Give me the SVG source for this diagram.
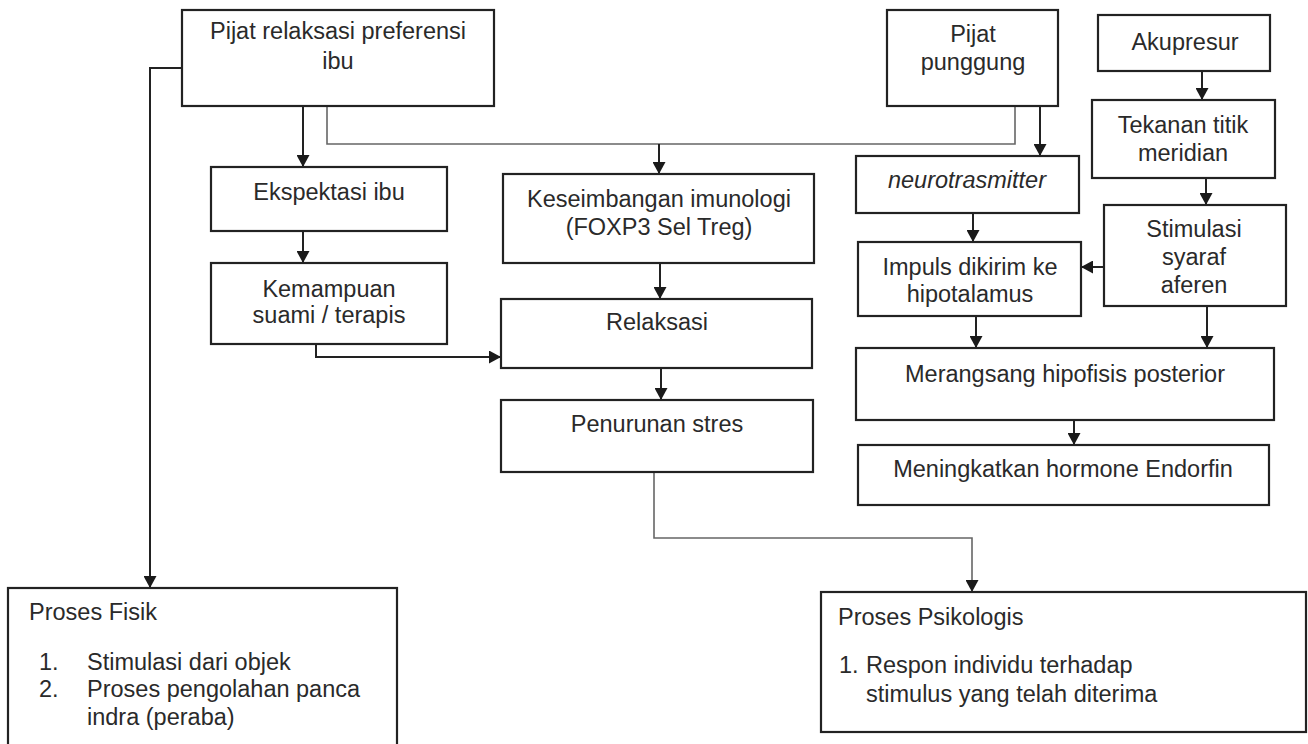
<svg xmlns="http://www.w3.org/2000/svg" width="1308" height="744" viewBox="0 0 1308 744">
<defs>
<marker id="ah" markerUnits="userSpaceOnUse" markerWidth="12" markerHeight="13" refX="12" refY="6.5" orient="auto">
<path d="M0,0 L12,6.5 L0,13 z" fill="#1a1a1a"/>
</marker>
<style>
.box{fill:#fff;stroke:#222;stroke-width:2.2}
.t{font-family:"Liberation Sans",Arial,sans-serif;font-size:23.5px;fill:#2a2a2a;text-anchor:middle}
.l{text-anchor:start}
.c{fill:none;stroke:#222;stroke-width:2}
.g{fill:none;stroke:#666;stroke-width:1.6}
</style>
</defs>
<rect width="1308" height="744" fill="#fff"/>
<g id="connectors">
<path class="c" d="M182,68 H150 V588" marker-end="url(#ah)"/>
<path class="c" d="M303,106 V167" marker-end="url(#ah)"/>
<path class="g" d="M327,106 V144 H1015 V106"/>
<path class="c" d="M659,144 V174" marker-end="url(#ah)"/>
<path class="c" d="M303,231 V263" marker-end="url(#ah)"/>
<path class="c" d="M316,344 V357 H501" marker-end="url(#ah)"/>
<path class="c" d="M660,263 V299" marker-end="url(#ah)"/>
<path class="c" d="M661,368 V400" marker-end="url(#ah)"/>
<path class="g" d="M654,472 V538 H972 V592" marker-end="url(#ah)"/>
<path class="c" d="M1040,106 V156" marker-end="url(#ah)"/>
<path class="c" d="M973,213 V242" marker-end="url(#ah)"/>
<path class="c" d="M1202,71 V100" marker-end="url(#ah)"/>
<path class="c" d="M1206,178 V205" marker-end="url(#ah)"/>
<path class="c" d="M1104,267 H1081" marker-end="url(#ah)"/>
<path class="c" d="M976,316 V348" marker-end="url(#ah)"/>
<path class="c" d="M1207,306 V348" marker-end="url(#ah)"/>
<path class="c" d="M1074,420 V445" marker-end="url(#ah)"/>
</g>
<g id="pijat-relaksasi"><rect class="box" x="182" y="10" width="312" height="96"/>
<text class="t" x="338" y="39">Pijat relaksasi preferensi</text><text class="t" x="338" y="69">ibu</text></g>
<g id="ekspektasi"><rect class="box" x="211" y="167" width="236" height="64"/>
<text class="t" x="329" y="200">Ekspektasi ibu</text></g>
<g id="kemampuan"><rect class="box" x="211" y="263" width="236" height="81"/>
<text class="t" x="329" y="297">Kemampuan</text><text class="t" x="329" y="323">suami / terapis</text></g>
<g id="keseimbangan"><rect class="box" x="503" y="174" width="311" height="89"/>
<text class="t" x="659" y="207">Keseimbangan imunologi</text><text class="t" x="659" y="235">(FOXP3 Sel Treg)</text></g>
<g id="relaksasi"><rect class="box" x="501" y="299" width="311" height="69"/>
<text class="t" x="657" y="330">Relaksasi</text></g>
<g id="penurunan"><rect class="box" x="501" y="400" width="312" height="72"/>
<text class="t" x="657" y="432">Penurunan stres</text></g>
<g id="pijat-punggung"><rect class="box" x="887" y="10" width="171" height="96"/>
<text class="t" x="973" y="42">Pijat</text><text class="t" x="973" y="70">punggung</text></g>
<g id="neurotransmitter"><rect class="box" x="856" y="156" width="223" height="57"/>
<text class="t" x="967" y="188" font-style="italic">neurotrasmitter</text></g>
<g id="impuls"><rect class="box" x="858" y="242" width="223" height="74"/>
<text class="t" x="970" y="275">Impuls dikirim ke</text><text class="t" x="970" y="302">hipotalamus</text></g>
<g id="akupresur"><rect class="box" x="1098" y="15" width="172" height="56"/>
<text class="t" x="1185" y="50">Akupresur</text></g>
<g id="tekanan"><rect class="box" x="1092" y="100" width="183" height="78"/>
<text class="t" x="1183" y="133">Tekanan titik</text><text class="t" x="1183" y="161">meridian</text></g>
<g id="stimulasi"><rect class="box" x="1104" y="205" width="182" height="101"/>
<text class="t" x="1194" y="237">Stimulasi</text><text class="t" x="1194" y="265">syaraf</text><text class="t" x="1194" y="293">aferen</text></g>
<g id="merangsang"><rect class="box" x="856" y="348" width="418" height="72"/>
<text class="t" x="1065" y="382">Merangsang hipofisis posterior</text></g>
<g id="meningkatkan"><rect class="box" x="858" y="445" width="411" height="60"/>
<text class="t" x="1063" y="477">Meningkatkan hormone Endorfin</text></g>
<g id="proses-fisik"><rect class="box" x="8" y="588" width="389" height="170"/>
<text class="t l" x="29" y="620">Proses Fisik</text>
<text class="t l" x="39" y="670">1.</text><text class="t l" x="87" y="670">Stimulasi dari objek</text>
<text class="t l" x="39" y="697">2.</text><text class="t l" x="87" y="697">Proses pengolahan panca</text>
<text class="t l" x="87" y="725">indra (peraba)</text></g>
<g id="proses-psikologis"><rect class="box" x="821" y="592" width="485" height="140"/>
<text class="t l" x="838" y="625">Proses Psikologis</text>
<text class="t l" x="839" y="673">1.</text><text class="t l" x="866" y="673">Respon individu terhadap</text>
<text class="t l" x="866" y="702">stimulus yang telah diterima</text></g>
</svg>
